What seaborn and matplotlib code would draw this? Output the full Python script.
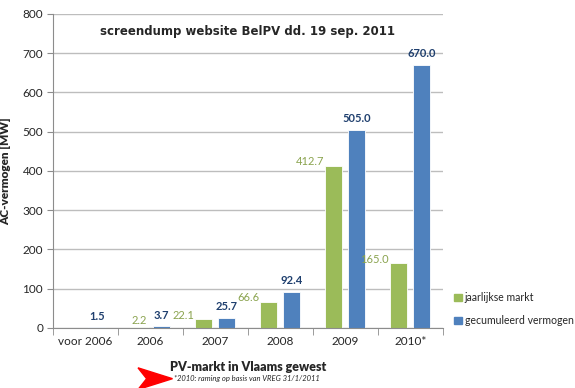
import matplotlib
matplotlib.use("Agg")
import matplotlib.pyplot as plt
from matplotlib.patches import Polygon
import numpy as np
import pandas as pd
import seaborn as sns

# data
years = ["voor 2006", "2006", "2007", "2008", "2009", "2010*"]
jaarlijks = [np.nan, 2.2, 22.1, 66.6, 412.7, 165.0]
gecumuleerd = [1.5, 3.7, 25.7, 92.4, 505.0, 670.0]
series = ["jaarlijkse markt", "gecumuleerd vermogen"]

GREEN = "#9BBB59"
BLUE = "#4F81BD"
GREEN_TXT = "#8AA34E"
BLUE_TXT = "#1F3F6E"

df = pd.DataFrame({
    "jaar": years * 2,
    "reeks": [series[0]] * len(years) + [series[1]] * len(years),
    "MW": jaarlijks + gecumuleerd,
})

sns.set_style("white")
plt.rcParams["font.family"] = ["Lato", "DejaVu Sans"]

fig = plt.figure(figsize=(5.75, 3.88), dpi=100)
ax = fig.add_axes([0.092, 0.155, 0.678, 0.809])

sns.barplot(data=df, x="jaar", y="MW", hue="reeks", order=years,
            hue_order=series, palette=[GREEN, BLUE], width=0.7, gap=0.25,
            saturation=1, edgecolor="white", linewidth=0.6, ax=ax, legend=False)

ax.set_ylim(0, 800)
ax.set_xlim(-0.5, len(years) - 0.5)
ax.set_yticks(range(0, 801, 100))
ax.yaxis.grid(True, color="#BDBDBD", linewidth=1)
ax.set_axisbelow(True)
for s in ["top", "right"]:
    ax.spines[s].set_visible(False)
for s in ["left", "bottom"]:
    ax.spines[s].set_color("#8C8C8C")
ax.tick_params(axis="y", length=4, color="#8C8C8C", labelsize=8.5, pad=3, left=True)
ax.tick_params(axis="x", length=0, labelsize=8.5, pad=6)
ax.set_xticks([i + 0.5 for i in range(-1, len(years))], minor=True)
ax.tick_params(axis="x", which="minor", length=5, color="#8C8C8C", bottom=True)

# value labels (seaborn drops the missing green bar, so read heights from the bars)
for bar in ax.containers[0]:
    h = bar.get_height()
    if np.isnan(h):
        continue
    if h < 10:
        # tiny bar: label sits above it
        ax.annotate(f"{h:.1f}", (bar.get_x() + bar.get_width() / 2, h), xytext=(0, 1),
                    textcoords="offset points", ha="center", va="bottom",
                    fontsize=8, color=GREEN_TXT)
    else:
        ax.annotate(f"{h:.1f}", (bar.get_x(), h), xytext=(-1, -1),
                    textcoords="offset points", ha="right", va="bottom",
                    fontsize=8, color=GREEN_TXT)
for bar in ax.containers[1]:
    h = bar.get_height()
    ax.annotate(f"{h:.1f}", (bar.get_x() + bar.get_width() / 2, h),
                xytext=(0, 4), textcoords="offset points", ha="center", va="bottom",
                fontsize=8, fontweight="bold", color=BLUE_TXT)

ax.set_ylabel("AC-vermogen [MW]", fontsize=8.5, fontweight="heavy", labelpad=8)
ax.set_xlabel("PV-markt in Vlaams gewest", fontsize=9, fontweight="heavy", labelpad=10)
ax.text(0.5, 0.945, "screendump website BelPV dd. 19 sep. 2011", transform=ax.transAxes,
        ha="center", va="center", fontsize=8.5, fontweight="bold", family="DejaVu Sans")

fig.text(0.302, 0.024, "*2010: raming op basis van VREG 31/1/2011", fontsize=5.5,
         style="italic", va="center")
fig.patches.append(Polygon([[0.240, 0.052], [0.300, 0.024], [0.240, -0.004], [0.255, 0.024]],
                           closed=True, transform=fig.transFigure, color="red"))

handles = [plt.Rectangle((0, 0), 1, 1, color=c) for c in (GREEN, BLUE)]
fig.legend(handles, series, loc="center left", bbox_to_anchor=(0.79, 0.203),
           frameon=False, fontsize=7.6, handlelength=0.7, handleheight=0.7,
           handletextpad=0.3, labelspacing=1.1, borderaxespad=0, borderpad=0)

fig.savefig("out.png", dpi=100)
